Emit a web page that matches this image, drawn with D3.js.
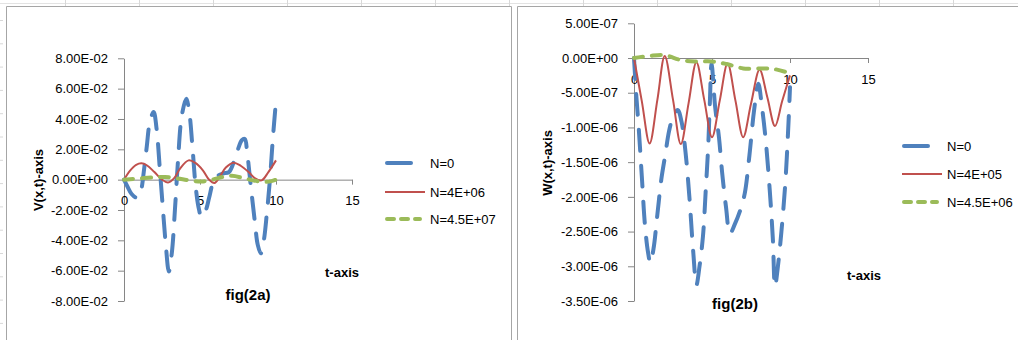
<!DOCTYPE html>
<html><head><meta charset="utf-8">
<script src="https://cdn.jsdelivr.net/npm/d3@7"></script>
<style>html,body{margin:0;padding:0;background:#fff;}svg{display:block;font-family:"Liberation Sans",Arial,sans-serif;}</style>
</head><body>
<svg id="c" width="1018" height="340"></svg>
<script>
// ---------- data: fig(2a) ----------
const tTicks = [0, 5, 10, 15];
const tTickLabels = ["0", "5", "10", "15"];
const vTicks = [-0.08, -0.06, -0.04, -0.02, 0, 0.02, 0.04, 0.06, 0.08];
const vTickLabels = ["-8.00E-02","-6.00E-02","-4.00E-02","-2.00E-02","0.00E+00","2.00E-02","4.00E-02","6.00E-02","8.00E-02"];
const vSeriesNames = ["N=0", "N=4E+06", "N=4.5E+07"];

const tV0 = [0,0.25,0.5,0.8,1.0,1.15,1.3,1.5,1.7,1.95,2.15,2.35,2.55,2.75,2.95,3.15,3.35,3.55,3.8,4.1,4.3,4.5,4.7,4.9,5.1,5.35,5.6,5.85,6.1,6.5,6.9,7.2,7.5,7.75,7.95,8.1,8.35,8.6,8.8,9.0,9.2,9.4,9.6,9.8,10];
const vN0 = [0,-0.005,-0.0095,-0.0118,-0.011,-0.006,0.005,0.022,0.038,0.0446,0.033,0.008,-0.018,-0.043,-0.0605,-0.048,-0.02,0.012,0.042,0.0534,0.044,0.022,-0.003,-0.018,-0.0245,-0.021,-0.012,-0.002,0.002,0.004,0.005,0.011,0.02,0.026,0.0268,0.018,-0.005,-0.027,-0.043,-0.0486,-0.04,-0.022,0.0,0.028,0.052];

const tV1 = [0,0.4,0.8,1.15,1.5,2.0,2.5,2.9,3.3,3.7,4.25,4.7,5.2,5.6,5.95,6.3,6.7,7.2,7.7,8.2,8.6,9.05,9.5,10];
const vN4e6 = [0,0.006,0.0098,0.0108,0.0095,0.005,0.0,-0.0019,0.001,0.0075,0.0127,0.011,0.006,0.0,-0.0022,0.002,0.008,0.0112,0.009,0.005,0.001,-0.0005,0.005,0.0127];

const tV2 = [0,1,2,2.7,3.5,4.3,5.1,5.8,6.5,7.1,7.8,8.5,9.2,9.7,10];
const vN45e7 = [0,0.0008,0.0015,0.0018,0.0008,-0.0005,-0.0012,0.0,0.0018,0.0025,0.0012,-0.0005,-0.0015,-0.001,0.0];

// ---------- data: fig(2b) ----------
const wTicks = [-3.5e-6,-3e-6,-2.5e-6,-2e-6,-1.5e-6,-1e-6,-5e-7,0,5e-7];
const wTickLabels = ["-3.50E-06","-3.00E-06","-2.50E-06","-2.00E-06","-1.50E-06","-1.00E-06","-5.00E-07","0.00E+00","5.00E-07"];
const wSeriesNames = ["N=0", "N=4E+05", "N=4.5E+06"];

const tW0 = [0,0.15,0.3,0.5,0.7,0.9,1.05,1.25,1.5,1.75,2.0,2.25,2.5,2.8,3.05,3.3,3.55,3.8,4.0,4.2,4.42,4.6,4.75,4.87,4.97,5.2,5.45,5.65,5.9,6.15,6.45,6.8,7.1,7.4,7.7,7.97,8.2,8.45,8.7,8.9,9.04,9.2,9.45,9.7,9.9,10];
const wN0 = [0,-5.5e-7,-1.0e-6,-1.7e-6,-2.4e-6,-2.8e-6,-2.95e-6,-2.75e-6,-2.25e-6,-1.75e-6,-1.4e-6,-1.05e-6,-8.5e-7,-7.5e-7,-9.2e-7,-1.35e-6,-2.0e-6,-2.8e-6,-3.27e-6,-3.0e-6,-2.57e-6,-1.9e-6,-1.3e-6,-6.0e-7,-8e-8,-7.0e-7,-1.15e-6,-1.65e-6,-2.15e-6,-2.53e-6,-2.4e-6,-2.2e-6,-1.95e-6,-1.4e-6,-7.5e-7,-3.7e-7,-7.0e-7,-1.2e-6,-1.9e-6,-2.6e-6,-3.29e-6,-3.05e-6,-2.5e-6,-1.8e-6,-9.5e-7,-4.2e-7];

const tW1 = [0,0.5,1.0,1.5,1.97,2.5,3.0,3.5,4.0,4.5,5.0,5.5,6.0,6.5,7.0,7.5,8.05,8.55,9.04,9.5,10];
const wN4e5 = [0,-6.2e-7,-1.23e-6,-6.0e-7,3e-8,-6.0e-7,-1.24e-6,-6.5e-7,-6e-8,-6.0e-7,-1.14e-6,-6.1e-7,-8e-8,-6.1e-7,-1.14e-6,-6.6e-7,-1.7e-7,-5.7e-7,-9.8e-7,-6.2e-7,-2.5e-7];

const tW2 = [0,1,2,3,4,5,6,7,8,9,10];
const wN45e6 = [0,3e-8,4e-8,-3e-8,-5e-8,-5e-8,-9e-8,-1.5e-7,-1.5e-7,-1.6e-7,-2.2e-7];

// ---------- styles ----------
const styles = [
  {color:"#4F81BD", width:4, dash:"21,15", legDash:null, legLen:24},
  {color:"#C0504D", width:2, dash:null, legDash:null, legLen:40},
  {color:"#9BBB59", width:4, dash:"9,9", legDash:"7,7", legLen:33}
];

const svg = d3.select("#c");
const axisColor = "#868686";

// spreadsheet background remnants & chart frames
const bg = svg.append("g");
bg.append("line").attr("x1",0).attr("x2",1018).attr("y1",3.5).attr("y2",3.5).attr("stroke","#e3e3e3");
d3.range(0,14).forEach(i=>{
  const x = 65 + 74*i + 0.5;
  bg.append("line").attr("x1",x).attr("x2",x).attr("y1",0).attr("y2",6).attr("stroke","#d8d8d8");
});
d3.range(0,15).forEach(i=>{
  const y = 20 + 23.3*i + 0.5;
  bg.append("line").attr("x1",0).attr("x2",3).attr("y1",y).attr("y2",y).attr("stroke","#d8d8d8");
});
bg.append("path").attr("d","M6.5,340V6.5H511.5V340").attr("fill","#fff").attr("stroke","#a6a6a6");
bg.append("path").attr("d","M517.5,340V6.5H1018").attr("fill","#fff").attr("stroke","#a6a6a6");

function drawPanel(cfg){
  const g = svg.append("g");
  const x = d3.scaleLinear().domain([0,15]).range(cfg.xr);
  const y = d3.scaleLinear().domain(cfg.yd).range(cfg.yr);

  // y axis
  const ya = g.append("g").attr("transform",`translate(${cfg.xr[0]},0)`)
    .call(d3.axisLeft(y).tickValues(cfg.yTicks).tickFormat((d,i)=>cfg.yLabels[i]).tickSize(6).tickSizeOuter(0).tickPadding(10));
  ya.select(".domain").attr("stroke",axisColor);
  ya.selectAll(".tick line").attr("stroke",axisColor);
  ya.selectAll(".tick text").attr("font-size",13).attr("fill","#000").attr("font-family","Liberation Sans, Arial, sans-serif");

  // x axis at y=0
  const xa = g.append("g").attr("transform",`translate(0,${y(0)})`)
    .call(d3.axisBottom(x).tickValues(tTicks).tickFormat((d,i)=>tTickLabels[i]).tickSize(5).tickSizeOuter(0));
  xa.select(".domain").attr("stroke",axisColor);
  xa.selectAll(".tick line").attr("stroke",axisColor);
  xa.selectAll(".tick text").attr("font-size",13).attr("fill","#000").attr("y",cfg.xLabY).attr("dy",0)
    .attr("font-family","Liberation Sans, Arial, sans-serif");

  // series
  const line = d3.line().x(d=>x(d[0])).y(d=>y(d[1])).curve(d3.curveCatmullRom.alpha(0.5));
  cfg.series.forEach((s,i)=>{
    const st = styles[i];
    const pts = s.t.map((t,k)=>[t,s.v[k]]);
    g.append("path").datum(pts).attr("d",line).attr("fill","none")
      .attr("stroke",st.color).attr("stroke-width",st.width)
      .attr("stroke-dasharray",st.dash).attr("stroke-linecap",st.dash?"round":"butt")
      .attr("stroke-linejoin","round");
  });

  // legend
  cfg.names.forEach((n,i)=>{
    const st = styles[i];
    const ly = cfg.legY[i];
    const x0 = cfg.legX + (st.dash?2:0);
    g.append("line").attr("x1",x0).attr("x2",x0+st.legLen).attr("y1",ly).attr("y2",ly)
      .attr("stroke",st.color).attr("stroke-width",st.width)
      .attr("stroke-dasharray",st.legDash).attr("stroke-linecap",st.dash?"round":"butt");
    g.append("text").attr("x",cfg.legTextX).attr("y",ly).attr("dy","0.35em")
      .attr("font-size",13).attr("fill","#000").text(n);
  });

  // titles
  g.append("text").attr("transform",`translate(${cfg.yTitle[0]},${cfg.yTitle[1]}) rotate(-90)`)
    .attr("text-anchor","middle").attr("dy","0.35em").attr("font-size",13).attr("font-weight","bold").text(cfg.yTitleText);
  g.append("text").attr("x",cfg.tTitle[0]).attr("y",cfg.tTitle[1]).attr("text-anchor","middle")
    .attr("font-size",13).attr("font-weight","bold").text("t-axis");
  g.append("text").attr("x",cfg.fig[0]).attr("y",cfg.fig[1]).attr("text-anchor","middle")
    .attr("font-size",15).attr("font-weight","bold").text(cfg.figText);
}

drawPanel({
  xr:[124,352], yd:[-0.08,0.08], yr:[301,58.3],
  yTicks:vTicks, yLabels:vTickLabels, xLabY:25,
  series:[{t:tV0,v:vN0},{t:tV1,v:vN4e6},{t:tV2,v:vN45e7}],
  names:vSeriesNames, legX:385, legTextX:430, legY:[163,192,219],
  yTitle:[38,180], yTitleText:"V(x,t)-axis",
  tTitle:[342,276.5], fig:[248,299.5], figText:"fig(2a)"
});

drawPanel({
  xr:[634,868], yd:[-3.5e-6,5e-7], yr:[301,23.3],
  yTicks:wTicks, yLabels:wTickLabels, xLabY:25.5,
  series:[{t:tW0,v:wN0},{t:tW1,v:wN4e5},{t:tW2,v:wN45e6}],
  names:wSeriesNames, legX:902, legTextX:947, legY:[146,174,202],
  yTitle:[547,163], yTitleText:"W(x,t)-axis",
  tTitle:[864,279.5], fig:[735,308.5], figText:"fig(2b)"
});
</script>
</body></html>
